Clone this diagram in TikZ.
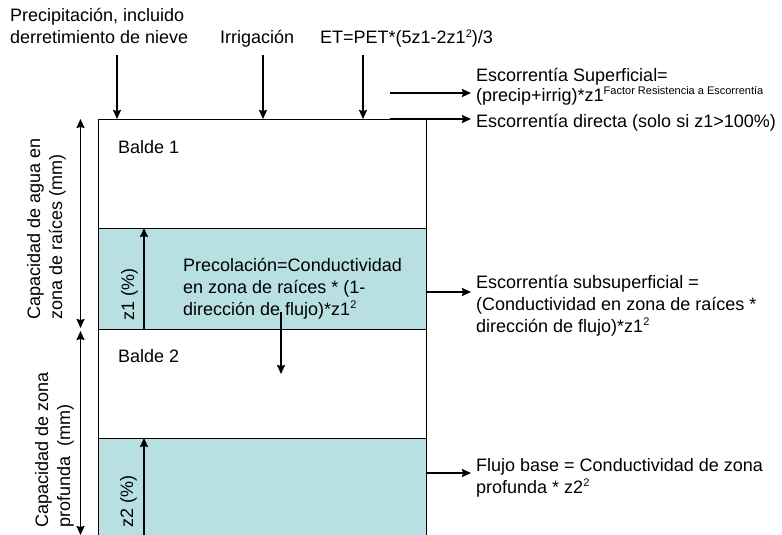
\documentclass[tikz,border=0pt]{standalone}
\usepackage{fontspec}
\setmainfont{Liberation Sans}
\usetikzlibrary{arrows.meta}
\definecolor{zonefill}{RGB}{184,223,226}
\newcommand\supx[1]{\raisebox{6.5pt}{\fontsize{11}{11}\selectfont #1}}
\begin{document}
\begin{tikzpicture}[x=1pt,y=-1pt, font=\fontsize{18}{22}\selectfont,
  arr/.style={line width=1.5pt, -{Stealth[length=9pt,width=8pt,inset=1pt]}},
  darr/.style={line width=1.5pt, {Stealth[length=9pt,width=8pt,inset=1pt]}-{Stealth[length=9pt,width=8pt,inset=1pt]}},
  bucket/.style={line width=1pt, minimum width=328pt, anchor=north west, inner sep=0pt, outer sep=0pt},
  lbl/.style={anchor=base west, inner sep=0pt, align=left},
  vlbl/.style={anchor=north west, inner sep=0pt, align=left, rotate=90},
]
\useasboundingbox (0,0) rectangle (782,535);
% buckets
\node[bucket, draw=black, fill=white, minimum height=109pt] (b1) at (98,119) {};
\node[bucket, draw=black, fill=zonefill, minimum height=101pt] (b1z) at (98,228) {};
\node[bucket, draw=black, fill=white, minimum height=109pt] (b2) at (98,329) {};
\node[bucket, draw=none, fill=zonefill, minimum height=97pt] (b2z) at (98,438) {};
\draw[line width=1pt] (b2z.north west) -- (b2z.south west);
\draw[line width=1pt] (b2z.north east) -- (b2z.south east);
\draw[line width=1pt] (b2z.north west) -- (b2z.north east);

\node[lbl] (bal1) at (118,153) {Balde 1};
\node[lbl] (bal2) at (118,362) {Balde 2};

% top inputs (base anchor = baseline of last line)
\node[lbl] (prec) at (10,44) {Precipitación, incluido\\derretimiento de nieve};
\node[lbl] (irr) at (220,44) {Irrigación};
\node[lbl] (et) at (320,44) {ET=PET*(5z1-2z1\supx{2})/3};
\coordinate (pin) at (117,55);
\coordinate (iin) at (263,55);
\coordinate (ein) at (363,55);
\draw[arr] (pin) -- (pin |- b1.north);
\draw[arr] (iin) -- (iin |- b1.north);
\draw[arr] (ein) -- (ein |- b1.north);

% surface runoff
\node[lbl] (esup) at (476,101) {Escorrentía Superficial=\\[-2pt](precip+irrig)*z1\supx{Factor Resistencia a Escorrentía}};
\coordinate (esups) at (390,93);
\coordinate (esupe) at (471,93);
\draw[arr] (esups) -- (esupe);
\node[lbl] (edir) at (476,127) {Escorrentía directa (solo si z1>100\%)};
\coordinate (edirs) at (390,119);
\coordinate (edire) at (471,119);
\draw[arr] (edirs) -- (edire);

% subsurface
\node[lbl] (esub) at (476,332) {Escorrentía subsuperficial =\\(Conductividad en zona de raíces *\\dirección de flujo)*z1\supx{2}};
\coordinate (esube) at (471,292);
\draw[arr] (b1z.east |- esube) -- (esube);

% base flow
\node[lbl] (fbase) at (476,493) {Flujo base = Conductividad de zona\\profunda * z2\supx{2}};
\coordinate (fbe) at (471,473);
\draw[arr] (b2z.east |- fbe) -- (fbe);

% percolation
\node[lbl] (perc) at (183,315) {Precolación=Conductividad\\en zona de raíces * (1-\\dirección de flujo)*z1\supx{2}};
\coordinate (pcs) at (281,312);
\coordinate (pce) at (281,374);
\draw[arr] (pcs) -- (pce);

% z arrows
\coordinate (zx) at (144,0);
\draw[arr] (zx |- b1z.south) -- (zx |- b1z.north);
\draw[arr] (zx |- b2z.south) -- (zx |- b2z.north);
\node[rotate=90, inner sep=0pt] (z1l) at (129.5,294) {z1 (\%)};
\node[rotate=90, inner sep=0pt] (z2l) at (128.5,501) {z2 (\%)};

% left capacity arrows
\coordinate (c1t) at (80.5,119);
\coordinate (c1b) at (80.5,328);
\coordinate (c2t) at (80.5,331);
\coordinate (c2b) at (80.5,535);
\draw[darr] (c1t) -- (c1b);
\draw[darr] (c2t) -- (c2b);
\node[vlbl] (cap1) at (27,320) {Capacidad de agua en\\zona de raíces (mm)};
\node[vlbl] (cap2) at (35,528) {Capacidad de zona\\profunda~ (mm)};
\end{tikzpicture}
\end{document}
